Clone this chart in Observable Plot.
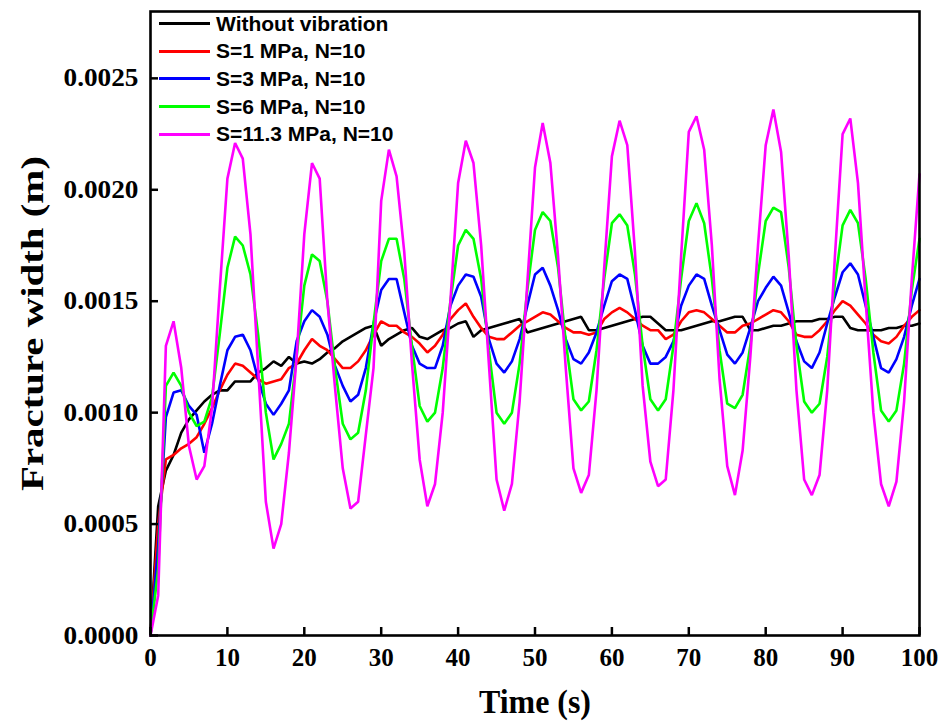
<!DOCTYPE html>
<html><head><meta charset="utf-8">
<script src="https://cdn.jsdelivr.net/npm/d3@7"></script>
<script src="https://cdn.jsdelivr.net/npm/@observablehq/plot@0.6"></script>
<style>
body{margin:0;background:#fff;}
#wrap{position:relative;width:943px;height:722px;}
#legend{position:absolute;left:159px;top:10px;font:bold 21px "Liberation Sans",Arial,sans-serif;color:#000;}
.row{display:flex;align-items:center;height:27.6px;white-space:nowrap;}
.sw{width:51px;height:3px;margin-right:6px;}
</style></head>
<body><div id="wrap"><div id="legend"></div></div>
<script>
const time=[0,1,2,3,4,5,6,7,8,9,10,11,12,13,14,15,16,17,18,19,20,21,22,23,24,25,26,27,28,29,30,31,32,33,34,35,36,37,38,39,40,41,42,43,44,45,46,47,48,49,50,51,52,53,54,55,56,57,58,59,60,61,62,63,64,65,66,67,68,69,70,71,72,73,74,75,76,77,78,79,80,81,82,83,84,85,86,87,88,89,90,91,92,93,94,95,96,97,98,99,100];
const seriesNames=["Without vibration","S=1 MPa, N=10","S=3 MPa, N=10","S=6 MPa, N=10","S=11.3 MPa, N=10"];
const colors=["#000000","#ff0000","#0000ff","#00ff00","#ff00ff"];
const withoutVibration=[0,0.00058,0.00074,0.00081,0.00091,0.00097,0.00101,0.00105,0.00108,0.00110,
0.00110,0.00114,0.00114,0.00114,0.00118,0.00120,0.00123,0.00121,0.00125,0.00122,
0.00123,0.00122,0.00124,0.00127,0.00129,0.00132,0.00134,0.00136,0.00138,0.00139,
0.00130,0.00133,0.00135,0.00137,0.00138,0.00134,0.00133,0.00135,0.00137,0.00138,
0.00140,0.00141,0.00134,0.00137,0.00138,0.00139,0.00140,0.00141,0.00142,0.00136,
0.00137,0.00138,0.00139,0.00140,0.00141,0.00142,0.00143,0.00137,0.00137,0.00138,
0.00139,0.00140,0.00141,0.00142,0.00143,0.00143,0.00140,0.00137,0.00137,0.00137,
0.00138,0.00139,0.00140,0.00141,0.00141,0.00142,0.00143,0.00143,0.00137,0.00137,
0.00138,0.00139,0.00139,0.00140,0.00141,0.00141,0.00141,0.00142,0.00142,0.00143,
0.00143,0.00138,0.00137,0.00137,0.00137,0.00137,0.00138,0.00138,0.00139,0.00139,
0.00140];
const s1=[0,0.00050,0.00079,0.00081,0.00084,0.00086,0.00089,0.00095,0.00102,0.00110,
0.00117,0.00122,0.00121,0.00118,0.00115,0.00113,0.00114,0.00115,0.00120,0.00122,
0.00128,0.00133,0.00130,0.00128,0.00124,0.00120,0.00120,0.00123,0.00128,0.00135,
0.00141,0.00139,0.00139,0.00136,0.00134,0.00131,0.00127,0.00130,0.00135,0.00142,
0.00146,0.00149,0.00143,0.00138,0.00134,0.00133,0.00133,0.00136,0.00139,0.00141,
0.00143,0.00145,0.00144,0.00141,0.00138,0.00136,0.00136,0.00135,0.00136,0.00142,
0.00145,0.00147,0.00145,0.00142,0.00139,0.00137,0.00137,0.00133,0.00135,0.00141,
0.00145,0.00146,0.00145,0.00142,0.00139,0.00136,0.00136,0.00139,0.00140,0.00142,
0.00144,0.00146,0.00145,0.00141,0.00135,0.00134,0.00134,0.00137,0.00141,0.00146,
0.00150,0.00148,0.00144,0.00140,0.00135,0.00132,0.00131,0.00134,0.00139,0.00143,
0.00146];
const s3=[0,0.00040,0.00098,0.00109,0.00110,0.00103,0.00099,0.00082,0.00095,0.00112,
0.00128,0.00134,0.00135,0.00128,0.00115,0.00104,0.00099,0.00104,0.00110,0.00132,
0.00141,0.00146,0.00143,0.00135,0.00121,0.00112,0.00105,0.00108,0.00120,0.00140,
0.00155,0.00160,0.00160,0.00145,0.00130,0.00122,0.00120,0.00120,0.00130,0.00148,
0.00157,0.00162,0.00161,0.00152,0.00133,0.00122,0.00118,0.00123,0.00133,0.00148,
0.00162,0.00165,0.00157,0.00146,0.00133,0.00124,0.00122,0.00127,0.00136,0.00148,
0.00159,0.00162,0.00160,0.00146,0.00130,0.00122,0.00122,0.00125,0.00132,0.00148,
0.00157,0.00162,0.00160,0.00148,0.00137,0.00126,0.00122,0.00127,0.00138,0.00150,
0.00156,0.00161,0.00157,0.00145,0.00132,0.00123,0.00120,0.00127,0.00140,0.00152,
0.00163,0.00167,0.00162,0.00148,0.00134,0.00120,0.00118,0.00124,0.00134,0.00148,
0.00160];
const s6=[0,0.00030,0.00112,0.00118,0.00112,0.00100,0.00094,0.00096,0.00107,0.00135,
0.00165,0.00179,0.00175,0.00162,0.00135,0.00100,0.00079,0.00086,0.00095,0.00125,
0.00157,0.00171,0.00168,0.00150,0.00120,0.00095,0.00088,0.00091,0.00110,0.00140,
0.00168,0.00178,0.00178,0.00160,0.00130,0.00103,0.00096,0.00100,0.00120,0.00150,
0.00175,0.00182,0.00178,0.00160,0.00128,0.00100,0.00095,0.00100,0.00122,0.00155,
0.00182,0.00190,0.00186,0.00165,0.00132,0.00106,0.00101,0.00105,0.00128,0.00160,
0.00185,0.00189,0.00184,0.00162,0.00130,0.00106,0.00101,0.00106,0.00130,0.00160,
0.00186,0.00194,0.00185,0.00160,0.00128,0.00104,0.00102,0.00108,0.00130,0.00162,
0.00186,0.00192,0.00190,0.00165,0.00130,0.00105,0.00100,0.00104,0.00125,0.00158,
0.00184,0.00191,0.00185,0.00160,0.00127,0.00101,0.00096,0.00101,0.00122,0.00155,
0.00178];
const s113=[0,0.00018,0.00130,0.00141,0.00120,0.00085,0.00070,0.00076,0.00102,0.00155,
0.00205,0.00221,0.00214,0.00180,0.00120,0.00060,0.00039,0.00050,0.00082,0.00125,
0.00180,0.00212,0.00205,0.00150,0.00111,0.00075,0.00057,0.00060,0.00090,0.00120,
0.00195,0.00218,0.00206,0.00172,0.00122,0.00079,0.00058,0.00068,0.00100,0.00150,
0.00203,0.00222,0.00212,0.00175,0.00122,0.00070,0.00056,0.00068,0.00105,0.00158,
0.00210,0.00230,0.00212,0.00170,0.00120,0.00075,0.00064,0.00072,0.00110,0.00165,
0.00215,0.00231,0.00220,0.00172,0.00112,0.00078,0.00067,0.00070,0.00110,0.00170,
0.00226,0.00233,0.00218,0.00175,0.00115,0.00076,0.00063,0.00083,0.00125,0.00175,
0.00220,0.00236,0.00217,0.00170,0.00110,0.00070,0.00063,0.00072,0.00110,0.00170,
0.00225,0.00232,0.00203,0.00150,0.00100,0.00068,0.00058,0.00069,0.00105,0.00160,
0.00207];
const xTicks=[0,10,20,30,40,50,60,70,80,90,100];
const yTicks=[0,0.0005,0.0010,0.0015,0.0020,0.0025];
const xTitle="Time (s)";
const yTitle="Fracture width (m)";

const allSeries=[withoutVibration,s1,s3,s6,s113];
const data=[];
allSeries.forEach((vals,i)=>vals.forEach((v,j)=>data.push({t:time[j],w:v,s:seriesNames[i]})));

const serif='"Liberation Serif","Times New Roman",serif';
const chart=Plot.plot({
  width:943,height:722,
  marginLeft:150,marginRight:24,marginTop:11,marginBottom:87,
  x:{domain:[0,100]},
  y:{domain:[0,0.0028]},
  color:{domain:seriesNames,range:colors},
  style:{fontFamily:serif,fontWeight:"bold",fontSize:"25px",color:"#000",background:"#fff",overflow:"visible"},
  marks:[
    Plot.line(data,{x:"t",y:"w",z:"s",stroke:"s",strokeWidth:2.6,strokeLinejoin:"miter"}),
    Plot.frame({stroke:"#000",strokeWidth:2.6}),
    Plot.axisX({ticks:xTicks,tickSize:-8,tickPadding:21,strokeWidth:2.5,tickFormat:d=>String(d),label:null}),
    Plot.axisY({ticks:yTicks,tickSize:-8,tickPadding:20,strokeWidth:2.5,tickFormat:d3.format(".4f"),label:null}),
    Plot.text([xTitle],{frameAnchor:"bottom",dy:77,fontSize:34,fontWeight:"bold",fontFamily:serif}),
    Plot.text([yTitle],{frameAnchor:"left",dx:-117,rotate:-90,textAnchor:"middle",fontSize:31,fontWeight:"bold",fontFamily:serif})
  ]
});
const wrap=document.getElementById("wrap");
wrap.insertBefore(chart,wrap.firstChild);
const svg=d3.select(chart.tagName.toLowerCase()==="svg"?chart:chart.querySelector("svg"));
svg.selectAll("text").each(function(){
  const el=d3.select(this);
  const s=this.textContent;
  if(s===yTitle) el.attr("textLength",335).attr("lengthAdjust","spacingAndGlyphs");
  else if(s===xTitle) el.attr("textLength",112).attr("lengthAdjust","spacingAndGlyphs");
  else if(/^0\.\d{4}$/.test(s)) el.attr("textLength",75).attr("lengthAdjust","spacingAndGlyphs");
});
const leg=document.getElementById("legend");
seriesNames.forEach((n,i)=>{
  const r=document.createElement("div");r.className="row";
  const sw=document.createElement("span");sw.className="sw";sw.style.background=colors[i];
  const tx=document.createElement("span");tx.textContent=n;
  r.appendChild(sw);r.appendChild(tx);leg.appendChild(r);
});
</script></body></html>
